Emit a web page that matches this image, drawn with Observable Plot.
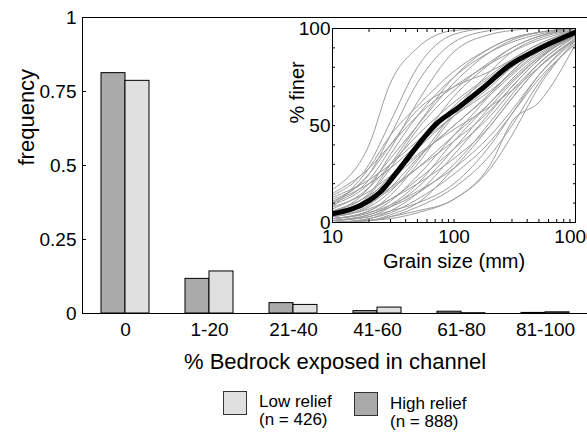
<!DOCTYPE html>
<html>
<head>
<meta charset="utf-8">
<script src="https://cdn.jsdelivr.net/npm/d3@7"></script>
<script src="https://cdn.jsdelivr.net/npm/@observablehq/plot@0.6"></script>
<style>
  html, body { margin: 0; padding: 0; background: white; }
  #wrap { position: relative; width: 587px; height: 432px; overflow: hidden; font-family: "Liberation Sans", Arial, Helvetica, sans-serif; }
  #wrap > * { position: absolute; }
</style>
</head>
<body>
<div id="wrap"></div>
<script>
// ---- Main bar chart data ----
const categories = ["0", "1-20", "21-40", "41-60", "61-80", "81-100"];
const highRelief = [0.812, 0.117, 0.035, 0.008, 0.006, 0.002];
const lowRelief  = [0.786, 0.142, 0.029, 0.020, 0.001, 0.004];
const yTicks = [0, 0.25, 0.5, 0.75, 1];
const yTickLabels = ["0", "0.25", "0.5", "0.75", "1"];

// ---- Inset grain-size data ----
const grainSizes = [10, 20, 30, 50, 100, 200, 300, 500, 1000];
const grayCurves = [
  [17, 40, 72, 90, 99, 100, 100, 100, 100],
  [14, 30, 52, 80, 97, 100, 100, 100, 100],
  [12, 25, 45, 72, 93, 99, 100, 100, 100],
  [10, 22, 38, 62, 88, 97, 99, 100, 100],
  [8, 28, 45, 60, 78, 90, 95, 98, 100],
  [15, 28, 40, 55, 70, 82, 88, 94, 99],
  [9, 20, 33, 50, 72, 88, 94, 98, 100],
  [6, 15, 30, 50, 75, 90, 95, 98, 100],
  [5, 12, 22, 40, 65, 82, 90, 96, 100],
  [7, 18, 30, 45, 62, 76, 84, 92, 99],
  [4, 10, 20, 38, 60, 75, 83, 90, 97],
  [3, 8, 16, 32, 57, 78, 88, 95, 99],
  [5, 13, 24, 38, 55, 70, 80, 90, 98],
  [11, 20, 28, 40, 55, 68, 77, 88, 97],
  [2, 6, 14, 30, 55, 72, 82, 91, 98],
  [3, 9, 18, 33, 50, 66, 76, 87, 96],
  [6, 14, 22, 34, 50, 67, 78, 89, 98],
  [2, 5, 11, 24, 45, 66, 78, 90, 99],
  [1, 4, 9, 20, 42, 62, 74, 86, 97],
  [4, 10, 17, 28, 45, 62, 73, 85, 96],
  [8, 16, 24, 35, 48, 60, 68, 80, 95],
  [1, 3, 8, 18, 38, 60, 72, 85, 97],
  [2, 6, 12, 22, 38, 55, 68, 82, 96],
  [0, 2, 6, 15, 35, 57, 70, 84, 97],
  [3, 7, 12, 20, 33, 50, 64, 80, 95],
  [1, 4, 8, 15, 30, 52, 66, 82, 96],
  [0, 1, 4, 10, 28, 50, 64, 80, 94],
  [2, 5, 9, 16, 28, 45, 58, 76, 94],
  [0, 2, 5, 12, 25, 42, 56, 74, 92],
  [1, 3, 6, 10, 20, 40, 56, 76, 95],
  [0, 1, 3, 8, 18, 35, 50, 72, 93],
  [0, 1, 2, 5, 12, 28, 45, 70, 94],
  [0, 1, 3, 6, 12, 30, 52, 62, 92],
  [13, 22, 30, 42, 58, 72, 80, 90, 98],
  [5, 18, 35, 55, 75, 88, 93, 97, 100],
  [3, 14, 28, 48, 68, 83, 90, 96, 99],
  [10, 25, 40, 58, 70, 78, 84, 92, 99],
  [6, 11, 18, 28, 42, 58, 70, 84, 97]
];
const meanSizes  = [10, 20, 25, 38, 72, 106, 176, 292, 484, 1000];
const meanValues = [4.5, 11.3, 16, 30, 51, 58.8, 69.7, 81.4, 89, 98];
const insetXTicks = [10, 100, 1000];
const insetMinorX = [10, 20, 30, 40, 50, 60, 70, 80, 90, 100, 200, 300, 400, 500, 600, 700, 800, 900, 1000];
const insetYTicks = [0, 50, 100];
const insetMinorY = [0, 10, 20, 30, 40, 50, 60, 70, 80, 90, 100];

// ---- Legend ----
const legendItems = [
  {label: "Low relief", n: "(n = 426)", color: "#e0e0e0"},
  {label: "High relief", n: "(n = 888)", color: "#aaaaaa"}
];

const FONT = '"Liberation Sans", Arial, Helvetica, sans-serif';
const wrap = document.getElementById("wrap");

const barRows = categories.map((c, i) => ({cat: c, high: highRelief[i], low: lowRelief[i]}));

const main = Plot.plot({
  width: 587, height: 375,
  marginTop: 17, marginLeft: 82, marginRight: 0, marginBottom: 62,
  style: {fontFamily: FONT, fontSize: "19px", color: "black", background: "transparent"},
  x: {domain: categories, paddingInner: 0.7149, paddingOuter: 0.357, axis: null, label: null},
  y: {domain: [0, 1], axis: null, label: null},
  marks: [
    Plot.barY(barRows, {x: "cat", y: "high", fill: "#aaaaaa", stroke: "black", strokeWidth: 1, dx: -12}),
    Plot.barY(barRows, {x: "cat", y: "low", fill: "#e0e0e0", stroke: "black", strokeWidth: 1, dx: 12}),
    Plot.frame({stroke: "black", insetRight: -3}),
    Plot.axisX({tickSize: 0, tickPadding: 9, fontSize: 19, label: null}),
    Plot.axisY(yTicks, {tickSize: 0, tickPadding: 6, fontSize: 19, label: null, tickFormat: d => yTickLabels[yTicks.indexOf(d)]}),
    Plot.axisY(yTicks, {tickSize: 4, dx: 4, text: null, label: null}),
    Plot.text(["frequency"], {frameAnchor: "left", dx: -49, rotate: -90, lineAnchor: "bottom", fontSize: 22}),
    Plot.text(["% Bedrock exposed in channel"], {frameAnchor: "bottom", dy: 55, lineAnchor: "bottom", fontSize: 22})
  ]
});
main.style.left = "0px"; main.style.top = "0px";
wrap.appendChild(main);

const grayRows = [];
grayCurves.forEach((vals, k) => vals.forEach((v, i) => grayRows.push({id: k, d: grainSizes[i], p: v})));
const meanRows = meanSizes.map((d, i) => ({d, p: meanValues[i]}));

const inset = Plot.plot({
  width: 307, height: 265,
  marginLeft: 52, marginTop: 18, marginRight: 12, marginBottom: 53,
  style: {fontFamily: FONT, fontSize: "19px", color: "black", background: "transparent", overflow: "visible"},
  x: {type: "log", domain: [10, 1000], axis: null, label: null},
  y: {domain: [0, 100], axis: null, label: null},
  marks: [
    Plot.frame({fill: "white"}),
    Plot.line(grayRows, {x: "d", y: "p", z: "id", stroke: "#9c9c9c", strokeWidth: 1, curve: "monotone-x", clip: true}),
    Plot.line(meanRows, {x: "d", y: "p", stroke: "black", strokeWidth: 5, curve: "monotone-x", clip: true}),
    Plot.frame({stroke: "black"}),
    Plot.axisX(insetMinorX, {tickSize: 3, dy: -3, text: null, label: null}),
    Plot.axisX(insetMinorX, {anchor: "top", tickSize: 3, dy: 3, text: null, label: null}),
    Plot.axisY(insetMinorY, {tickSize: 3, dx: 3, text: null, label: null}),
    Plot.axisY(insetMinorY, {anchor: "right", tickSize: 3, dx: -3, text: null, label: null}),
    Plot.axisX(insetXTicks, {tickSize: 0, tickPadding: 7, fontSize: 19, label: null, tickFormat: d => String(d)}),
    Plot.axisY(insetYTicks, {tickSize: 0, tickPadding: 2, fontSize: 19, label: null, tickFormat: d => String(d)}),
    Plot.text(["% finer"], {frameAnchor: "left", dx: -29, dy: -2, rotate: -90, lineAnchor: "bottom", fontSize: 20}),
    Plot.text(["Grain size (mm)"], {frameAnchor: "bottom", dy: 45, lineAnchor: "bottom", fontSize: 20})
  ]
});
inset.style.left = "280px"; inset.style.top = "10px";
wrap.appendChild(inset);

// Legend (below the chart)
const legendX = [{box: 223.5, text: 259, by: 11.5, ty: 27.3}, {box: 354.5, text: 390, by: 12.5, ty: 29.3}];
const legend = d3.create("svg").attr("width", 587).attr("height", 52)
  .style("font-family", FONT).style("position", "absolute").style("left", "0px").style("top", "380px");
legendItems.forEach((it, i) => {
  const p = legendX[i];
  legend.append("rect").attr("x", p.box).attr("y", p.by).attr("width", 23).attr("height", 23)
    .attr("fill", it.color).attr("stroke", "#333").attr("stroke-width", 1);
  legend.append("text").attr("x", p.text).attr("y", p.ty).attr("font-size", 17).attr("fill", "black").text(it.label);
  legend.append("text").attr("x", p.text).attr("y", p.ty + 18).attr("font-size", 17).attr("fill", "black").text(it.n);
});
wrap.appendChild(legend.node());
</script>
</body>
</html>
